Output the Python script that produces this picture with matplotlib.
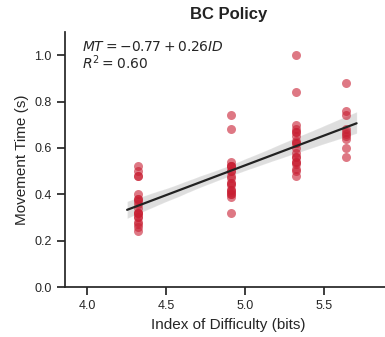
import numpy as np
import matplotlib
matplotlib.use("Agg")
import matplotlib.pyplot as plt
import seaborn as sns

id_levels = [4.32, 4.91, 5.32, 5.64]
mt_432 = [0.52, 0.50, 0.48, 0.48, 0.40, 0.38, 0.38, 0.37, 0.36, 0.34, 0.32, 0.32, 0.32,
          0.30, 0.30, 0.28, 0.27, 0.26, 0.24]
mt_491 = [0.74, 0.68, 0.54, 0.52, 0.52, 0.52, 0.50, 0.50, 0.48, 0.47, 0.45, 0.45, 0.44,
          0.42, 0.42, 0.41, 0.40, 0.40, 0.39, 0.32]
mt_532 = [1.00, 0.84, 0.70, 0.68, 0.67, 0.67, 0.65, 0.63, 0.62, 0.62, 0.60, 0.58, 0.56,
          0.56, 0.54, 0.54, 0.53, 0.51, 0.50, 0.48]
mt_564 = [0.88, 0.76, 0.74, 0.68, 0.67, 0.66, 0.65, 0.64, 0.60, 0.56]

groups = [mt_432, mt_491, mt_532, mt_564]
x = np.concatenate([[lvl] * len(g) for lvl, g in zip(id_levels, groups)])
y = np.concatenate(groups)

sns.set_theme(style="ticks")
plt.rcParams['font.family'] = ['Liberation Sans', 'DejaVu Sans']

fig = plt.figure(figsize=(3.85, 3.37), dpi=100)
ax = fig.add_axes([65 / 385, 50 / 337, 327 / 385, 255 / 337])

red = "#c81e32"
ax.scatter(x, y, s=42, color=red, alpha=0.6, linewidths=0, zorder=2)
sns.regplot(x=x, y=y, ax=ax, scatter=False, truncate=False,
            line_kws=dict(color="#222222", lw=1.6, zorder=3), color="#888888")

ax.set_xlim(3.861, 5.93)
ax.set_ylim(0, 1.1)
ax.set_xticks([4.0, 4.5, 5.0, 5.5])
ax.set_yticks([0.0, 0.2, 0.4, 0.6, 0.8, 1.0])
ax.set_xlabel("Index of Difficulty (bits)", fontsize=11)
ax.set_ylabel("Movement Time (s)", fontsize=11)
ax.set_title("BC Policy", fontsize=12, fontweight="bold", color="#222222", pad=9)
ax.tick_params(labelsize=9)
ax.text(0.052, 0.97, "$MT = -0.77 + 0.26ID$\n$R^2 = 0.60$", transform=ax.transAxes,
        ha="left", va="top", fontsize=10, linespacing=1.0)
sns.despine(ax=ax)

fig.savefig("out.png", dpi=100)
